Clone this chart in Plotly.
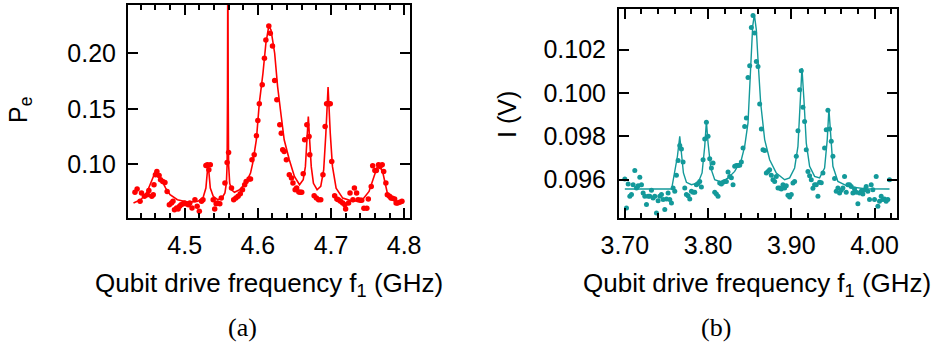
import plotly.graph_objects as go

# ---------------- Panel (a) data ----------------
freq_a = [4.432, 4.435, 4.439, 4.441, 4.445, 4.449, 4.451, 4.455, 4.457, 4.458,
          4.460, 4.462, 4.465, 4.467, 4.470, 4.473, 4.476, 4.479, 4.482, 4.484,
          4.486, 4.489, 4.491, 4.493, 4.495, 4.498, 4.500, 4.502, 4.505, 4.507,
          4.510, 4.514, 4.517, 4.520, 4.523, 4.525, 4.529, 4.531, 4.533, 4.535,
          4.539, 4.541, 4.543, 4.545, 4.548, 4.550, 4.555, 4.558, 4.560, 4.564,
          4.567, 4.570, 4.573, 4.576, 4.579, 4.582, 4.584, 4.588, 4.590, 4.592,
          4.595, 4.598, 4.600, 4.602, 4.606, 4.609, 4.611, 4.615, 4.617, 4.620,
          4.623, 4.626, 4.630, 4.632, 4.634, 4.636, 4.639, 4.643, 4.646, 4.648,
          4.651, 4.653, 4.656, 4.658, 4.660, 4.662, 4.664, 4.667, 4.670, 4.671,
          4.677, 4.680, 4.683, 4.686, 4.689, 4.692, 4.694, 4.697, 4.699, 4.701,
          4.705, 4.708, 4.710, 4.713, 4.716, 4.719, 4.720, 4.724, 4.726, 4.730,
          4.732, 4.735, 4.737, 4.740, 4.742, 4.745, 4.749, 4.751, 4.755, 4.757,
          4.760, 4.762, 4.765, 4.767, 4.770, 4.772, 4.775, 4.777, 4.780, 4.782,
          4.784, 4.787, 4.789, 4.791, 4.794, 4.797]
pe_a = [0.0749, 0.0778, 0.0668, 0.0743, 0.0713, 0.0728, 0.0766, 0.0713, 0.0728, 0.0817,
        0.0907, 0.0937, 0.0901, 0.0862, 0.0847, 0.0838, 0.0757, 0.0638, 0.0653, 0.0668,
        0.0593, 0.0608, 0.0599, 0.0623, 0.0638, 0.0647, 0.0653, 0.0647, 0.0638, 0.0653,
        0.0608, 0.0683, 0.0623, 0.0578, 0.0668, 0.0683, 0.0991, 0.0997, 0.0952, 0.0997,
        0.0683, 0.0599, 0.0647, 0.0653, 0.0647, 0.0698, 0.0832, 0.1018, 0.1108, 0.0787,
        0.0683, 0.0698, 0.0713, 0.0737, 0.0772, 0.0817, 0.0847, 0.0868, 0.0868, 0.1042,
        0.1087, 0.1257, 0.1395, 0.1545, 0.1716, 0.1955, 0.2120, 0.2246, 0.2180, 0.2066,
        0.1754, 0.1581, 0.1356, 0.1281, 0.1132, 0.1117, 0.1042, 0.0907, 0.0877, 0.0832,
        0.0772, 0.0787, 0.0751, 0.0749, 0.0749, 0.0916, 0.1222, 0.1356, 0.1251, 0.1087,
        0.0719, 0.0698, 0.0683, 0.0683, 0.0907, 0.1341, 0.1545, 0.1545, 0.1545, 0.1027,
        0.0719, 0.0689, 0.0683, 0.0668, 0.0653, 0.0638, 0.0599, 0.0653, 0.0743, 0.0683,
        0.0787, 0.0743, 0.0683, 0.0677, 0.0677, 0.0605, 0.0605, 0.0689, 0.0802, 0.0988,
        0.0946, 0.0946, 0.0997, 0.0982, 0.0997, 0.0937, 0.0832, 0.0728, 0.0713, 0.0698,
        0.0695, 0.0689, 0.0653, 0.0653, 0.0659, 0.0668]

fit_freq_a = [4.430, 4.440, 4.448, 4.455, 4.461, 4.467, 4.474, 4.480, 4.490, 4.505,
              4.518, 4.525, 4.529, 4.532, 4.535, 4.539, 4.545, 4.551, 4.555, 4.557,
              4.558, 4.5585, 4.559, 4.5595, 4.560, 4.5615, 4.564, 4.568, 4.575, 4.584,
              4.590, 4.593, 4.598, 4.602, 4.607, 4.611, 4.615, 4.618, 4.623, 4.627,
              4.632, 4.636, 4.643, 4.650, 4.657, 4.662, 4.665, 4.667, 4.669, 4.671,
              4.673, 4.676, 4.681, 4.686, 4.690, 4.693, 4.696, 4.699, 4.702, 4.707,
              4.716, 4.730, 4.743, 4.752, 4.759, 4.765, 4.771, 4.777, 4.789, 4.799]
fit_pe_a = [0.0653, 0.0683, 0.0743, 0.0847, 0.0952, 0.0877, 0.0787, 0.0728, 0.0683, 0.0659,
            0.0668, 0.0698, 0.0787, 0.1012, 0.0787, 0.0713, 0.0683, 0.0698, 0.0743, 0.0832,
            0.1000, 0.1600, 0.3000, 0.1600, 0.1000, 0.0832, 0.0772, 0.0749, 0.0772, 0.0838,
            0.0922, 0.1012, 0.1222, 0.1551, 0.1820, 0.2090, 0.2246, 0.2210, 0.2000, 0.1701,
            0.1431, 0.1222, 0.1042, 0.0892, 0.0817, 0.0862, 0.0980, 0.1200, 0.1431, 0.1200,
            0.0980, 0.0830, 0.0772, 0.0802, 0.0950, 0.1280, 0.1695, 0.1280, 0.0982, 0.0787,
            0.0697, 0.0668, 0.0683, 0.0757, 0.0892, 0.1012, 0.0922, 0.0743, 0.0668, 0.0653]

# ---------------- Panel (b) data ----------------
freq_b = [3.700, 3.702, 3.704, 3.706, 3.708, 3.710, 3.712, 3.714, 3.716, 3.718,
          3.720, 3.722, 3.724, 3.726, 3.728, 3.730, 3.732, 3.734, 3.736, 3.738,
          3.740, 3.742, 3.744, 3.746, 3.748, 3.750, 3.752, 3.754, 3.756, 3.758,
          3.760, 3.762, 3.764, 3.766, 3.768, 3.770, 3.772, 3.774, 3.776, 3.778,
          3.780, 3.782, 3.784, 3.786, 3.788, 3.790, 3.792, 3.794, 3.796, 3.798,
          3.800, 3.802, 3.804, 3.806, 3.808, 3.810, 3.812, 3.814, 3.816, 3.818,
          3.820, 3.822, 3.824, 3.826, 3.828, 3.830, 3.832, 3.834, 3.836, 3.838,
          3.840, 3.842, 3.844, 3.846, 3.848, 3.850, 3.852, 3.854, 3.856, 3.858,
          3.860, 3.862, 3.864, 3.866, 3.868, 3.870, 3.872, 3.874, 3.876, 3.878,
          3.880, 3.882, 3.884, 3.886, 3.888, 3.890, 3.892, 3.894, 3.896, 3.898,
          3.900, 3.902, 3.904, 3.906, 3.908, 3.910, 3.912, 3.914, 3.916, 3.918,
          3.920, 3.922, 3.924, 3.926, 3.928, 3.930, 3.932, 3.934, 3.936, 3.938,
          3.940, 3.942, 3.944, 3.946, 3.948, 3.950, 3.952, 3.954, 3.956, 3.958,
          3.960, 3.962, 3.964, 3.966, 3.968, 3.970, 3.972, 3.974, 3.976, 3.978,
          3.980, 3.982, 3.984, 3.986, 3.988, 3.990, 3.992, 3.994, 3.996, 3.998,
          4.000, 4.002, 4.004, 4.006, 4.008, 4.010, 4.012, 4.014, 4.016, 4.018]
i_b = [0.09603, 0.09469, 0.09580, 0.09523, 0.09531, 0.09577, 0.09642, 0.09562, 0.09572, 0.09611,
       0.09577, 0.09538, 0.09523, 0.09485, 0.09523, 0.09523, 0.09551, 0.09515, 0.09523, 0.09446,
       0.09503, 0.09523, 0.09531, 0.09508, 0.09462, 0.09511, 0.09538, 0.09508, 0.09492, 0.09562,
       0.09546, 0.09620, 0.09688, 0.09758, 0.09742, 0.09682, 0.09562, 0.09531, 0.09526, 0.09511,
       0.09546, 0.09542, 0.09542, 0.09577, 0.09582, 0.09592, 0.09566, 0.09692, 0.09788, 0.09865,
       0.09800, 0.09697, 0.09654, 0.09677, 0.09542, 0.09534, 0.09523, 0.09585, 0.09580, 0.09588,
       0.09592, 0.09592, 0.09635, 0.09615, 0.09609, 0.09577, 0.09662, 0.09665, 0.09665, 0.09666,
       0.09682, 0.09746, 0.09846, 0.09885, 0.10072, 0.10126, 0.10303, 0.10358, 0.10277, 0.10146,
       0.10123, 0.09949, 0.09834, 0.09738, 0.09735, 0.09631, 0.09638, 0.09646, 0.09620, 0.09600,
       0.09592, 0.09615, 0.09562, 0.09562, 0.09557, 0.09577, 0.09562, 0.09572, 0.09528, 0.09520,
       0.09531, 0.09585, 0.09592, 0.09708, 0.09826, 0.10015, 0.10103, 0.09934, 0.09869, 0.09738,
       0.09638, 0.09618, 0.09600, 0.09560, 0.09577, 0.09577, 0.09523, 0.09588, 0.09586, 0.09631,
       0.09746, 0.09831, 0.09920, 0.09834, 0.09777, 0.09708, 0.09605, 0.09546, 0.09562, 0.09538,
       0.09551, 0.09562, 0.09615, 0.09542, 0.09577, 0.09577, 0.09569, 0.09538, 0.09557, 0.09542,
       0.09489, 0.09538, 0.09546, 0.09534, 0.09554, 0.09569, 0.09546, 0.09508, 0.09577, 0.09554,
       0.09508, 0.09615, 0.09477, 0.09500, 0.09523, 0.09508, 0.09511, 0.09500, 0.09508, 0.09600]

fit_freq_b = [3.700, 3.756, 3.7568, 3.760, 3.7632, 3.766, 3.768, 3.7704, 3.774, 3.780,
              3.788, 3.7928, 3.796, 3.798, 3.800, 3.8032, 3.808, 3.816, 3.824, 3.832,
              3.840, 3.844, 3.848, 3.8512, 3.8536, 3.8556, 3.858, 3.860, 3.8632, 3.868,
              3.874, 3.882, 3.892, 3.898, 3.904, 3.908, 3.9104, 3.9128, 3.9152, 3.918,
              3.922, 3.928, 3.934, 3.940, 3.9432, 3.9452, 3.9472, 3.950, 3.956, 3.968,
              3.988, 4.018]
fit_i_b = [0.09557, 0.09557, 0.09569, 0.09631, 0.09708, 0.09800, 0.09723, 0.09631, 0.09588, 0.09577,
           0.09585, 0.09631, 0.09754, 0.09869, 0.09769, 0.09654, 0.09600, 0.09588, 0.09608, 0.09638,
           0.09692, 0.09754, 0.09862, 0.10123, 0.10308, 0.10362, 0.10292, 0.10154, 0.09954, 0.09785,
           0.09692, 0.09631, 0.09600, 0.09608, 0.09654, 0.09754, 0.09938, 0.10115, 0.09969, 0.09769,
           0.09662, 0.09615, 0.09608, 0.09654, 0.09785, 0.09926, 0.09815, 0.09662, 0.09592, 0.09569,
           0.09558, 0.09557]

RED = "#ff0000"
TEAL = "#13999a"
FONT = "Liberation Sans, Arial, sans-serif"

fig = go.Figure()
fig.add_trace(go.Scatter(x=fit_freq_a, y=fit_pe_a, mode="lines",
                         line=dict(color=RED, width=1.6), xaxis="x", yaxis="y"))
fig.add_trace(go.Scatter(x=freq_a, y=pe_a, mode="markers",
                         marker=dict(color=RED, size=5.5), xaxis="x", yaxis="y"))
fig.add_trace(go.Scatter(x=fit_freq_b, y=fit_i_b, mode="lines",
                         line=dict(color=TEAL, width=1.4), xaxis="x2", yaxis="y2"))
fig.add_trace(go.Scatter(x=freq_b, y=i_b, mode="markers",
                         marker=dict(color=TEAL, size=5), xaxis="x2", yaxis="y2"))

W, H = 945, 353

def axis_common():
    return dict(showgrid=False, zeroline=False, showline=True, linewidth=2,
                linecolor="black", mirror="allticks", ticks="inside",
                ticklen=10, tickwidth=2, tickcolor="black", automargin=False,
                tickfont=dict(family=FONT, size=25, color="black"))

xa = axis_common()
xa.update(domain=[128 / W, 410 / W], range=[4.4225, 4.808], tick0=4.5, dtick=0.1,
          tickformat=".1f", anchor="y", ticklabelstandoff=4,
          minor=dict(tick0=4.4, dtick=0.02, ticks="inside", ticklen=5,
                     tickwidth=2, tickcolor="black"))
ya = axis_common()
ya.update(domain=[1 - 218 / H, 1 - 5 / H], range=[0.0518, 0.2434], tick0=0,
          dtick=0.05, tickformat=".2f", anchor="x", ticklabelstandoff=5)
xb = axis_common()
xb.update(domain=[619 / W, 897 / W], range=[3.693, 4.027], tick0=3.7, dtick=0.1,
          tickformat=".2f", anchor="y2", ticklabelstandoff=4,
          minor=dict(tick0=3.7, dtick=0.02, ticks="inside", ticklen=5,
                     tickwidth=2, tickcolor="black"))
yb = axis_common()
yb.update(domain=[1 - 218 / H, 1 - 9 / H], range=[0.09423, 0.10388], tick0=0.096,
          dtick=0.002, tickformat=".3f", anchor="x2", ticklabelstandoff=6)

annotations = [
    dict(text="Qubit drive frequency f<sub>1</sub> (GHz)", x=269 / W, y=1 - 284 / H,
         xref="paper", yref="paper", showarrow=False, xanchor="center", yanchor="middle",
         font=dict(family=FONT, size=26, color="black")),
    dict(text="Qubit drive frequency f<sub>1</sub> (GHz)", x=757 / W, y=1 - 284 / H,
         xref="paper", yref="paper", showarrow=False, xanchor="center", yanchor="middle",
         font=dict(family=FONT, size=26, color="black")),
    dict(text="P<sub>e</sub>", x=20 / W, y=1 - 110 / H, textangle=-90,
         xref="paper", yref="paper", showarrow=False, xanchor="center", yanchor="middle",
         font=dict(family=FONT, size=25, color="black")),
    dict(text="I (V)", x=507 / W, y=1 - 115 / H, textangle=-90,
         xref="paper", yref="paper", showarrow=False, xanchor="center", yanchor="middle",
         font=dict(family=FONT, size=25, color="black")),
    dict(text="(a)", x=243 / W, y=1 - 327 / H,
         xref="paper", yref="paper", showarrow=False, xanchor="center", yanchor="middle",
         font=dict(family="Liberation Serif, serif", size=26, color="black")),
    dict(text="(b)", x=716 / W, y=1 - 327 / H,
         xref="paper", yref="paper", showarrow=False, xanchor="center", yanchor="middle",
         font=dict(family="Liberation Serif, serif", size=26, color="black")),
]

fig.update_layout(width=W, height=H,
                  margin=dict(l=0, r=0, t=0, b=0, pad=0, autoexpand=False),
                  paper_bgcolor="white", plot_bgcolor="white", showlegend=False,
                  hovermode=False,
                  xaxis=xa, yaxis=ya, xaxis2=xb, yaxis2=yb, annotations=annotations)

fig.write_html("out.html", config={"displayModeBar": False, "staticPlot": True},
               post_script="document.body.style.margin='0px';document.body.style.padding='0px';")
